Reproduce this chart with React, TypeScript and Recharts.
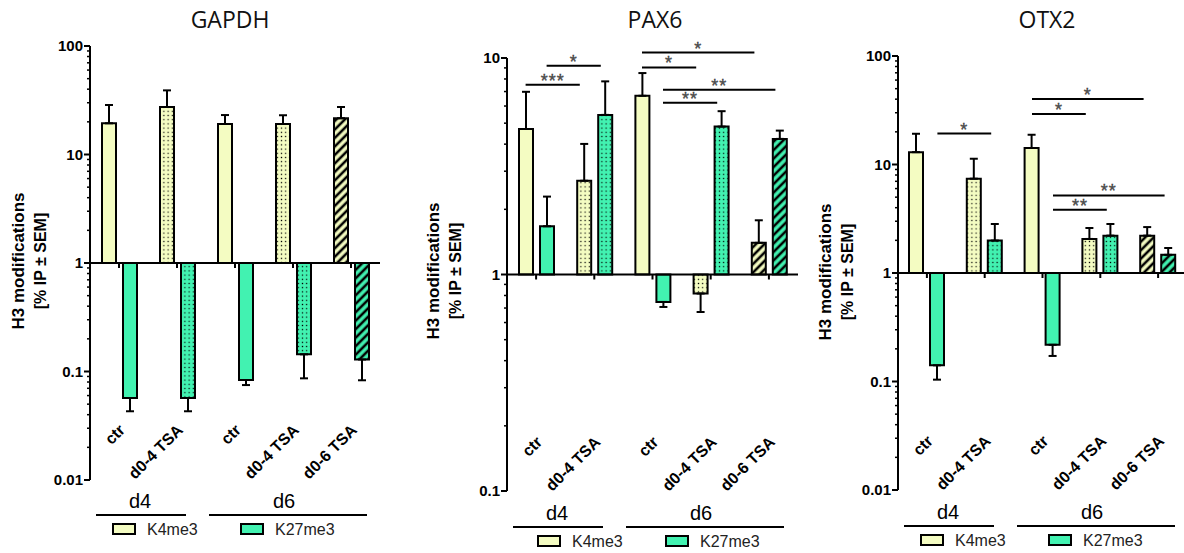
import React from 'react';
import { BarChart, Bar, XAxis, YAxis, Cell, ErrorBar, ReferenceLine } from 'recharts';

// categories shared by the three panels
const categoryIds = ['d4-ctr', 'd4-tsa04', 'd6-ctr', 'd6-tsa04', 'd6-tsa06'];
const categoryLabels = ['ctr', 'd0-4 TSA', 'ctr', 'd0-4 TSA', 'd0-6 TSA'];
const categoryFill = ['solid', 'dots', 'solid', 'dots', 'hatch'];
const groupLabels = ['d4', 'd6'];
const seriesNames = ['K4me3', 'K27me3'];

// GAPDH (% IP), error = end of the SEM whisker
const gapdhK4 = [19.4, 27.4, 19.1, 19.1, 21.6];
const gapdhK4Err = [28.6, 39, 23.1, 23.0, 27.4];
const gapdhK27 = [0.057, 0.057, 0.0835, 0.144, 0.129];
const gapdhK27Err = [0.043, 0.043, 0.075, 0.0865, 0.083];

// PAX6
const pax6K4 = [4.7, 2.71, 6.69, 0.817, 1.4];
const pax6K4Err = [6.98, 4.01, 8.52, 0.671, 1.78];
const pax6K27 = [1.67, 5.46, 0.747, 4.82, 4.23];
const pax6K27Err = [2.29, 7.8, 0.708, 5.68, 4.62];

// OTX2
const otx2K4 = [13.0, 7.4, 14.2, 2.06, 2.21];
const otx2K4Err = [19.2, 11.3, 18.8, 2.6, 2.65];
const otx2K27 = [0.141, 1.99, 0.218, 2.21, 1.47];
const otx2K27Err = [0.104, 2.83, 0.172, 2.83, 1.7];

// significance brackets: category index + series, level in % IP
const pax6Stars = [
  { from: 0, fromS: 'k4', to: 1, toS: 'k4', level: 7.52, label: '***' },
  { from: 0, fromS: 'k27', to: 1, toS: 'k27', level: 9.21, label: '*' },
  { from: 2, fromS: 'k4', to: 4, toS: 'k4', level: 10.6, label: '*' },
  { from: 2, fromS: 'k4', to: 3, toS: 'k4', level: 9.05, label: '*' },
  { from: 2, fromS: 'k27', to: 4, toS: 'k27', level: 7.13, label: '**' },
  { from: 2, fromS: 'k27', to: 3, toS: 'k27', level: 6.21, label: '**' },
];
const otx2Stars = [
  { from: 0, fromS: 'k27', to: 1, toS: 'k27', level: 19.3, label: '*' },
  { from: 2, fromS: 'k4', to: 4, toS: 'k4', level: 40.2, label: '*' },
  { from: 2, fromS: 'k4', to: 3, toS: 'k4', level: 29.2, label: '*' },
  { from: 2, fromS: 'k27', to: 4, toS: 'k27', level: 5.19, label: '**' },
  { from: 2, fromS: 'k27', to: 3, toS: 'k27', level: 3.83, label: '**' },
];

const decades2 = [0.01, 0.1, 1, 10, 100];
const decades1 = [0.1, 1, 10];
const minorSteps = [2, 3, 4, 5, 6, 7, 8, 9];

const K4_COLOR = '#f4fcc2';
const K27_COLOR = '#42f2b1';
const FONT = '"Liberation Sans", Arial, sans-serif';
const BAR_SIZE = 14;
const BAR_GAP = 7;
const Y_AXIS_W = 50;
const X_AXIS_H = 30;

const errOffsets = (v: number, end: number) => (v >= 1 ? [0, end - v] : [v - end, 0]);
const k4Range = (d: any) => [1, d.k4];
const k27Range = (d: any) => [1, d.k27];

function makePanel(cfg: any) {
  const rows = categoryIds.map((id, i) => ({
    id,
    k4: cfg.k4[i],
    k27: cfg.k27[i],
    k4Err: errOffsets(cfg.k4[i], cfg.k4Err[i]),
    k27Err: errOffsets(cfg.k27[i], cfg.k27Err[i]),
  }));
  const ticks: number[] = [];
  cfg.decades.forEach((d: number, i: number) => {
    ticks.push(d);
    if (i < cfg.decades.length - 1) minorSteps.forEach((m) => ticks.push(+(d * m).toPrecision(3)));
  });
  const tickSegs = categoryIds.map((id) => [{ x: id, y: 1 }, { x: id, y: 1 }]);
  const tickShape = (p: any) => (
    <line x1={p.x1} x2={p.x1} y1={p.y1} y2={p.y1 + 5} stroke="#000" strokeWidth={2} />
  );
  const half = (BAR_SIZE + BAR_GAP) / 2;
  const brackets = cfg.stars.map((b: any) => {
    const dx1 = b.fromS === 'k4' ? -half : half;
    const dx2 = (b.toS === 'k4' ? -half : half) - 4;
    return {
      segment: [{ x: categoryIds[b.from], y: b.level }, { x: categoryIds[b.to], y: b.level }],
      shape: (p: any) => {
        const a = p.x1 + dx1;
        const c = p.x2 + dx2;
        return (
          <g>
            <line x1={a} x2={c} y1={p.y1} y2={p.y1} stroke="#000" strokeWidth={2} />
            <text x={(a + c) / 2} y={p.y1 + 2} textAnchor="middle" fontFamily={FONT} fontSize={18} letterSpacing={1} fill="#555" stroke="#222" strokeWidth={0.3}>
              {b.label}
            </text>
          </g>
        );
      },
    };
  });
  const xTick = (p: any) => {
    const i = categoryIds.indexOf(p.payload.value);
    const ax = p.x + 7;
    return (
      <text x={ax} y={cfg.labelY} transform={`rotate(-45 ${ax} ${cfg.labelY})`} textAnchor="end" fontFamily={FONT} fontWeight="bold" fontSize={16} fill="#000">
        {categoryLabels[i]}
      </text>
    );
  };
  const yTick = (p: any) => {
    const v = p.payload.value;
    const major = cfg.decades.includes(v);
    return (
      <g>
        <line x1={p.x} x2={p.x - (major ? 6 : 3)} y1={p.y} y2={p.y} stroke="#000" strokeWidth={major ? 2 : 1.5} />
        {major && (
          <text x={p.x - 7} y={p.y} dy={5} textAnchor="end" fontFamily={FONT} fontWeight="bold" fontSize={15} fill="#000">
            {String(v)}
          </text>
        )}
      </g>
    );
  };
  return { ...cfg, rows, ticks, tickSegs, tickShape, brackets, xTick, yTick };
}

const panels = [
  makePanel({ key: 'gapdh', title: 'GAPDH', k4: gapdhK4, k4Err: gapdhK4Err, k27: gapdhK27, k27Err: gapdhK27Err, stars: [], decades: decades2, domain: [0.01, 100], plotLeft: 90, plotTop: 46, plotBottom: 480, plotWidth: 290, labelY: 431, groupY: 515, legendDx: 0, titleX: 230, yLabelX: 29, yLabelY: 261 }),
  makePanel({ key: 'pax6', title: 'PAX6', k4: pax6K4, k4Err: pax6K4Err, k27: pax6K27, k27Err: pax6K27Err, stars: pax6Stars, decades: decades1, domain: [0.1, 10], plotLeft: 507, plotTop: 58, plotBottom: 491, plotWidth: 291, labelY: 443, groupY: 527, legendDx: 8, titleX: 655, yLabelX: 444, yLabelY: 271 }),
  makePanel({ key: 'otx2', title: 'OTX2', k4: otx2K4, k4Err: otx2K4Err, k27: otx2K27, k27Err: otx2K27Err, stars: otx2Stars, decades: decades2, domain: [0.01, 100], plotLeft: 898, plotTop: 56, plotBottom: 490, plotWidth: 289, labelY: 442, groupY: 526, legendDx: 0, titleX: 1047, yLabelX: 836, yLabelY: 272 }),
];

const fillFor = (pfx: string, s: string, kind: string) => {
  if (kind === 'solid') return s === 'k4' ? K4_COLOR : K27_COLOR;
  return `url(#${pfx}-${kind}-${s})`;
};

function Patterns({ pfx }: { pfx: string }) {
  return (
    <defs>
      {[['k4', K4_COLOR], ['k27', K27_COLOR]].map(([s, col]) => (
        <React.Fragment key={s}>
          <pattern id={`${pfx}-dots-${s}`} width={4.2} height={4.2} patternUnits="userSpaceOnUse">
            <rect width={4.2} height={4.2} fill={col} />
            <rect x={1.5} y={1.5} width={1.2} height={1.2} fill="#000" />
          </pattern>
          <pattern id={`${pfx}-hatch-${s}`} width={6} height={6} patternUnits="userSpaceOnUse" patternTransform="rotate(45)">
            <rect width={6} height={6} fill={col} />
            <line x1={0} y1={0} x2={0} y2={6} stroke="#000" strokeWidth={2.6} />
            <line x1={6} y1={0} x2={6} y2={6} stroke="#000" strokeWidth={2.6} />
          </pattern>
        </React.Fragment>
      ))}
    </defs>
  );
}

function Panel({ p }: { p: any }) {
  const width = Y_AXIS_W + p.plotWidth + 12;
  return (
    <div style={{ position: 'absolute', left: p.plotLeft - Y_AXIS_W, top: 0 }}>
      <BarChart
        width={width}
        height={p.plotBottom + X_AXIS_H}
        data={p.rows}
        margin={{ top: p.plotTop, right: 12, left: 0, bottom: 0 }}
        barSize={BAR_SIZE}
        barGap={BAR_GAP}
      >
        <Patterns pfx={p.key} />
        <XAxis dataKey="id" height={X_AXIS_H} interval={0} axisLine={false} tickLine={false} tick={p.xTick} />
        <YAxis
          scale="log"
          type="number"
          domain={p.domain}
          allowDataOverflow
          ticks={p.ticks}
          interval={0}
          width={Y_AXIS_W}
          tickSize={0}
          tickMargin={0}
          tickLine={false}
          axisLine={{ stroke: '#000', strokeWidth: 2 }}
          tick={p.yTick}
        />
        <Bar dataKey={k4Range} name="K4me3" stroke="#000" strokeWidth={2} isAnimationActive={false}>
          {p.rows.map((r: any, i: number) => (
            <Cell key={r.id} fill={fillFor(p.key, 'k4', categoryFill[i])} />
          ))}
          <ErrorBar dataKey="k4Err" direction="y" width={4} stroke="#000" strokeWidth={2} isAnimationActive={false} />
        </Bar>
        <Bar dataKey={k27Range} name="K27me3" stroke="#000" strokeWidth={2} isAnimationActive={false}>
          {p.rows.map((r: any, i: number) => (
            <Cell key={r.id} fill={fillFor(p.key, 'k27', categoryFill[i])} />
          ))}
          <ErrorBar dataKey="k27Err" direction="y" width={4} stroke="#000" strokeWidth={2} isAnimationActive={false} />
        </Bar>
        <ReferenceLine y={1} stroke="#000" strokeWidth={2} ifOverflow="visible" />
        {p.tickSegs.map((seg: any, i: number) => (
          <ReferenceLine key={`t${i}`} segment={seg} shape={p.tickShape} ifOverflow="visible" />
        ))}
        {p.brackets.map((b: any, i: number) => (
          <ReferenceLine key={`b${i}`} segment={b.segment} shape={b.shape} ifOverflow="visible" />
        ))}
      </BarChart>
    </div>
  );
}

function Annotations() {
  return (
    <svg width={1184} height={553} style={{ position: 'absolute', left: 0, top: 0 }}>
      {panels.map((p: any) => {
        const L = p.plotLeft;
        const g = p.groupY;
        const ld = p.legendDx;
        return (
          <g key={p.key}>
            <text x={p.titleX} y={28} textAnchor="middle" fontFamily='"Open Sans", sans-serif' fontSize={23} fill="#111">
              {p.title}
            </text>
            <text x={p.yLabelX - 11} y={p.yLabelY} transform={`rotate(-90 ${p.yLabelX - 11} ${p.yLabelY})`} textAnchor="middle" dominantBaseline="central" fontFamily={FONT} fontWeight="bold" fontSize={17}>
              H3 modifications
            </text>
            <text x={p.yLabelX + 11} y={p.yLabelY} transform={`rotate(-90 ${p.yLabelX + 11} ${p.yLabelY})`} textAnchor="middle" dominantBaseline="central" fontFamily={FONT} fontWeight="bold" fontSize={16}>
              [% IP ± SEM]
            </text>
            <line x1={L + 6} x2={L + 96} y1={g} y2={g} stroke="#000" strokeWidth={2} />
            <line x1={L + 119} x2={L + 277} y1={g} y2={g} stroke="#000" strokeWidth={2} />
            <text x={L + 50} y={g - 7} textAnchor="middle" fontFamily={FONT} fontSize={20}>{groupLabels[0]}</text>
            <text x={L + 194} y={g - 7} textAnchor="middle" fontFamily={FONT} fontSize={20}>{groupLabels[1]}</text>
            <rect x={L + 23 + ld} y={g + 9} width={22} height={10} fill={K4_COLOR} stroke="#000" strokeWidth={2} />
            <text x={L + 57 + ld} y={g + 20} fontFamily={FONT} fontSize={16} fill="#222">{seriesNames[0]}</text>
            <rect x={L + 151 + ld} y={g + 9} width={22} height={10} fill={K27_COLOR} stroke="#000" strokeWidth={2} />
            <text x={L + 185 + ld} y={g + 20} fontFamily={FONT} fontSize={16} fill="#222">{seriesNames[1]}</text>
          </g>
        );
      })}
    </svg>
  );
}

export default function App() {
  return (
    <div style={{ position: 'absolute', left: 0, top: 0, width: 1184, height: 553, overflow: 'hidden', background: '#fff' }}>
      <Annotations />
      {panels.map((p: any) => (
        <Panel key={p.key} p={p} />
      ))}
    </div>
  );
}
